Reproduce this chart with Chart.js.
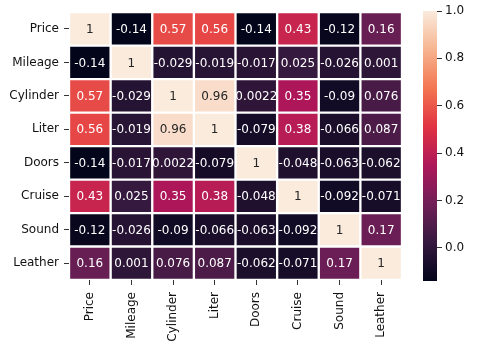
<!DOCTYPE html>
<html>
<head>
<meta charset="utf-8">
<script src="https://cdn.jsdelivr.net/npm/chart.js@4/dist/chart.umd.min.js"></script>
<style>
  body { margin: 0; background: #fff; }
  #wrap { position: relative; width: 478px; height: 348px; }
  #wrap canvas { position: absolute; left: 0; top: 0; }
</style>
</head>
<body>
<div id="wrap">
  <canvas id="heat" width="478" height="348"></canvas>
  <canvas id="cbar" width="478" height="348"></canvas>
</div>
<script>
// correlation matrix (rows top to bottom, columns left to right)
const labels = ['Price', 'Mileage', 'Cylinder', 'Liter', 'Doors', 'Cruise', 'Sound', 'Leather'];
const price    = [1, -0.14, 0.57, 0.56, -0.14, 0.43, -0.12, 0.16];
const mileage  = [-0.14, 1, -0.029, -0.019, -0.017, 0.025, -0.026, 0.001];
const cylinder = [0.57, -0.029, 1, 0.96, 0.0022, 0.35, -0.09, 0.076];
const liter    = [0.56, -0.019, 0.96, 1, -0.079, 0.38, -0.066, 0.087];
const doors    = [-0.14, -0.017, 0.0022, -0.079, 1, -0.048, -0.063, -0.062];
const cruise   = [0.43, 0.025, 0.35, 0.38, -0.048, 1, -0.092, -0.071];
const sound    = [-0.12, -0.026, -0.09, -0.066, -0.063, -0.092, 1, 0.17];
const leather  = [0.16, 0.001, 0.076, 0.087, -0.062, -0.071, 0.17, 1];
const matrix = [price, mileage, cylinder, liter, doors, cruise, sound, leather];
const cbarTicks = [0, 0.2, 0.4, 0.6, 0.8, 1.0];

const vmin = -0.14, vmax = 1.0;

// seaborn "rocket" colormap, sampled
const rocket = ['#03051a', '#35193e', '#701f57', '#ad1759', '#e13342', '#f37651', '#f6b48f', '#faebdd'];
const rocketRgb = rocket.map(h => [1, 3, 5].map(i => parseInt(h.substr(i, 2), 16)));

function colorFor(v) {
  let t = (v - vmin) / (vmax - vmin);
  t = Math.max(0, Math.min(1, t)) * (rocket.length - 1);
  const i = Math.min(Math.floor(t), rocket.length - 2);
  const f = t - i;
  const a = rocketRgb[i], b = rocketRgb[i + 1];
  return a.map((c, k) => Math.round(c + (b[k] - c) * f));
}
function css(rgb) { return 'rgb(' + rgb.join(',') + ')'; }
function lum(rgb) {
  const c = rgb.map(x => {
    x = x / 255;
    return x <= 0.03928 ? x / 12.92 : Math.pow((x + 0.055) / 1.055, 2.4);
  });
  return 0.2126 * c[0] + 0.7152 * c[1] + 0.0722 * c[2];
}

Chart.defaults.font.family = 'DejaVu Sans';
Chart.defaults.font.size = 12;
Chart.defaults.color = '#111';

const datasets = matrix.map((row, i) => ({
  label: labels[i],
  data: row.map(() => [i, i + 1]),
  values: row,
  backgroundColor: row.map(v => css(colorFor(v))),
  borderColor: '#fff',
  borderWidth: 1.5,
  borderSkipped: false,
  barPercentage: 1,
  categoryPercentage: 1
}));

// write the value in each cell
const annotate = {
  id: 'annotate',
  afterDatasetsDraw(chart) {
    const ctx = chart.ctx;
    ctx.save();
    ctx.font = '12px DejaVu Sans';
    ctx.textAlign = 'center';
    ctx.textBaseline = 'middle';
    chart.data.datasets.forEach((ds, i) => {
      chart.getDatasetMeta(i).data.forEach((el, j) => {
        const v = ds.values[j];
        const p = el.getCenterPoint();
        ctx.fillStyle = lum(colorFor(v)) > 0.408 ? '#262626' : '#fff';
        ctx.fillText(String(Number(v.toPrecision(2))), p.x, p.y + 1);
      });
    });
    ctx.restore();
  }
};

new Chart(document.getElementById('heat'), {
  type: 'bar',
  data: { labels: labels, datasets: datasets },
  options: {
    responsive: false,
    animation: false,
    layout: { padding: { left: 0, top: 10, right: 76, bottom: 0 } },
    plugins: { legend: { display: false }, tooltip: { enabled: false } },
    scales: {
      x: {
        stacked: true,
        border: { display: false },
        grid: { drawOnChartArea: false, tickLength: 5, color: '#333', offset: false },
        ticks: { maxRotation: 90, minRotation: 90, autoSkip: false, padding: 7 },
        afterFit(s) { s.height = 68; }
      },
      y: {
        type: 'linear',
        reverse: true,
        min: 0,
        max: 8,
        border: { display: false },
        grid: { drawOnChartArea: false, tickLength: 5, color: '#333' },
        afterBuildTicks(s) { s.ticks = labels.map((_, i) => ({ value: i + 0.5 })); },
        ticks: { padding: 5, callback: (v, idx) => labels[idx] },
        afterFit(s) { s.width = 69; }
      }
    }
  },
  plugins: [annotate]
});

// colour bar
new Chart(document.getElementById('cbar'), {
  type: 'bar',
  data: {
    labels: [''],
    datasets: [{
      data: [[vmin, vmax]],
      borderWidth: 0,
      barPercentage: 1,
      categoryPercentage: 1,
      backgroundColor(c) {
        const area = c.chart.chartArea;
        if (!area) return rocket[0];
        const y = c.chart.scales.y;
        const g = c.chart.ctx.createLinearGradient(0, y.getPixelForValue(vmin), 0, y.getPixelForValue(vmax));
        rocket.forEach((col, k) => g.addColorStop(k / (rocket.length - 1), col));
        return g;
      }
    }]
  },
  options: {
    responsive: false,
    animation: false,
    layout: { padding: { left: 423, top: 11, right: 0, bottom: 67 } },
    plugins: { legend: { display: false }, tooltip: { enabled: false } },
    scales: {
      x: { display: false },
      y: {
        position: 'right',
        min: vmin,
        max: vmax,
        border: { display: false },
        grid: { drawOnChartArea: false, tickLength: 5, color: '#333' },
        afterBuildTicks(s) { s.ticks = cbarTicks.map(v => ({ value: v })); },
        ticks: { padding: 3, callback: v => v.toFixed(1) },
        afterFit(s) { s.width = 41; }
      }
    }
  }
});
</script>
</body>
</html>
